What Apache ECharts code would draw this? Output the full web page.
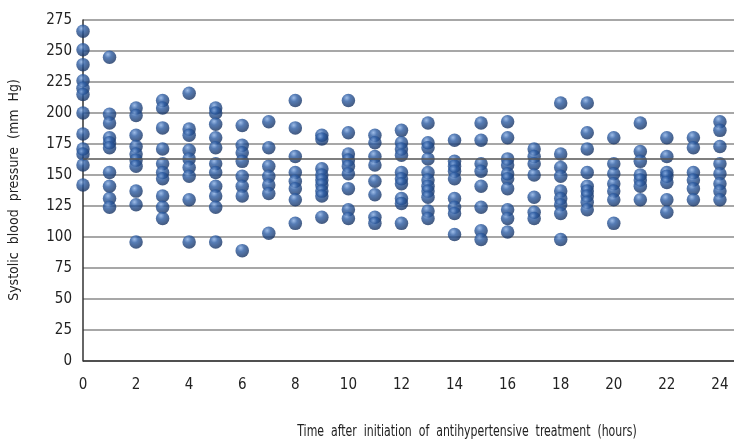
<!DOCTYPE html>
<html><head><meta charset="utf-8">
<script src="https://cdn.jsdelivr.net/npm/echarts@6/dist/echarts.min.js"></script>
<style>html,body{margin:0;padding:0;background:#fff}#c{width:734px;height:441px}</style>
</head><body><div id="c"></div>
<script>
const hours = [0,1,2,3,4,5,6,7,8,9,10,11,12,13,14,15,16,17,18,19,20,21,22,23,24];
const sbp0  = [266,251,239,226,220,215,200,183,171,167,158,142];
const sbp1  = [245,199,192,180,176,172,152,141,131,124];
const sbp2  = [204,198,182,173,167,162,157,137,126,96];
const sbp3  = [210,204,188,171,159,152,147,133,124,115];
const sbp4  = [216,187,182,170,163,156,149,130,96];
const sbp5  = [204,200,191,180,172,159,152,141,133,124,96];
const sbp6  = [190,174,168,161,149,141,133,89];
const sbp7  = [193,172,157,149,142,135,103];
const sbp8  = [210,188,165,152,145,139,130,111];
const sbp9  = [182,179,155,150,146,142,137,133,116];
const sbp10 = [210,184,167,162,157,151,139,122,115];
const sbp11 = [182,176,165,158,145,134,116,111];
const sbp12 = [186,176,171,166,152,147,143,131,127,111];
const sbp13 = [192,176,172,163,152,146,141,137,132,121,115];
const sbp14 = [178,161,157,153,147,131,124,119,102];
const sbp15 = [192,178,159,153,141,124,105,98];
const sbp16 = [193,180,163,158,151,147,139,122,115,104];
const sbp17 = [171,165,159,150,132,120,115];
const sbp18 = [208,167,156,149,137,131,126,119,98];
const sbp19 = [208,184,171,152,141,137,133,128,122];
const sbp20 = [180,159,151,143,137,130,111];
const sbp21 = [192,169,161,150,146,141,130];
const sbp22 = [180,165,152,149,144,130,120];
const sbp23 = [180,172,152,146,139,130];
const sbp24 = [193,186,173,159,151,143,137,130];
const sbpByHour = [sbp0,sbp1,sbp2,sbp3,sbp4,sbp5,sbp6,sbp7,sbp8,sbp9,sbp10,sbp11,sbp12,sbp13,sbp14,sbp15,sbp16,sbp17,sbp18,sbp19,sbp20,sbp21,sbp22,sbp23,sbp24];
const refLine = 163;
const yTicks = [0,25,50,75,100,125,150,175,200,225,250,275];
const xTitle = 'Time  after  initiation  of  antihypertensive  treatment  (hours)';
const yTitle = 'Systolic  blood  pressure  (mm  Hg)';

const points = [];
hours.forEach((h,i)=>sbpByHour[i].forEach(v=>points.push([h,v])));

const FONT = '"DejaVu Sans Condensed",sans-serif';
const chart = echarts.init(document.getElementById('c'));
chart.setOption({
  animation:false,
  backgroundColor:'#fff',
  grid:{left:83,right:0,top:20,bottom:80,containLabel:false,outerBoundsMode:'none'},
  xAxis:{type:'value',min:0,max:24.53,interval:2,
    axisLine:{show:false},axisTick:{show:false},splitLine:{show:false},
    axisLabel:{color:'#222',fontSize:15,fontFamily:FONT,margin:17,
      formatter:v=>(Math.abs(v%2)<1e-6 && v<=24)?String(v):''}},
  yAxis:{type:'value',min:0,max:275,interval:25,
    axisLine:{show:true,lineStyle:{color:'#333',width:1.5}},axisTick:{show:false},
    splitLine:{show:true,lineStyle:{color:'#8a8a8a',width:1.5}},
    axisLabel:{color:'#222',fontSize:15,fontFamily:FONT,margin:11,
      formatter:v=>yTicks.includes(v)?String(v):''}},
  graphic:[
    {type:'text',x:467,y:432,scaleX:0.76,originX:0,originY:0,
      style:{text:xTitle,textAlign:'center',textVerticalAlign:'middle',fill:'#222',fontSize:16,fontFamily:FONT}},
    {type:'text',x:14,y:190,rotation:Math.PI/2,
      style:{text:yTitle,textAlign:'center',textVerticalAlign:'middle',fill:'#222',fontSize:14,fontFamily:FONT}},
    {type:'line',shape:{x1:83,y1:361,x2:734,y2:361},style:{stroke:'#333',lineWidth:1.5},z:10}],
  series:[{type:'scatter',data:points,symbolSize:13.5,
    itemStyle:{color:new echarts.graphic.RadialGradient(0.38,0.3,0.75,[
      {offset:0,color:'#86acE2'},{offset:0.35,color:'#2c5ca3'},{offset:1,color:'#132d5a'}])},
    markLine:{silent:true,symbol:'none',label:{show:false},
      lineStyle:{color:'#555',width:1.5,type:'solid'},data:[{yAxis:refLine}]}}]
});
</script></body></html>
